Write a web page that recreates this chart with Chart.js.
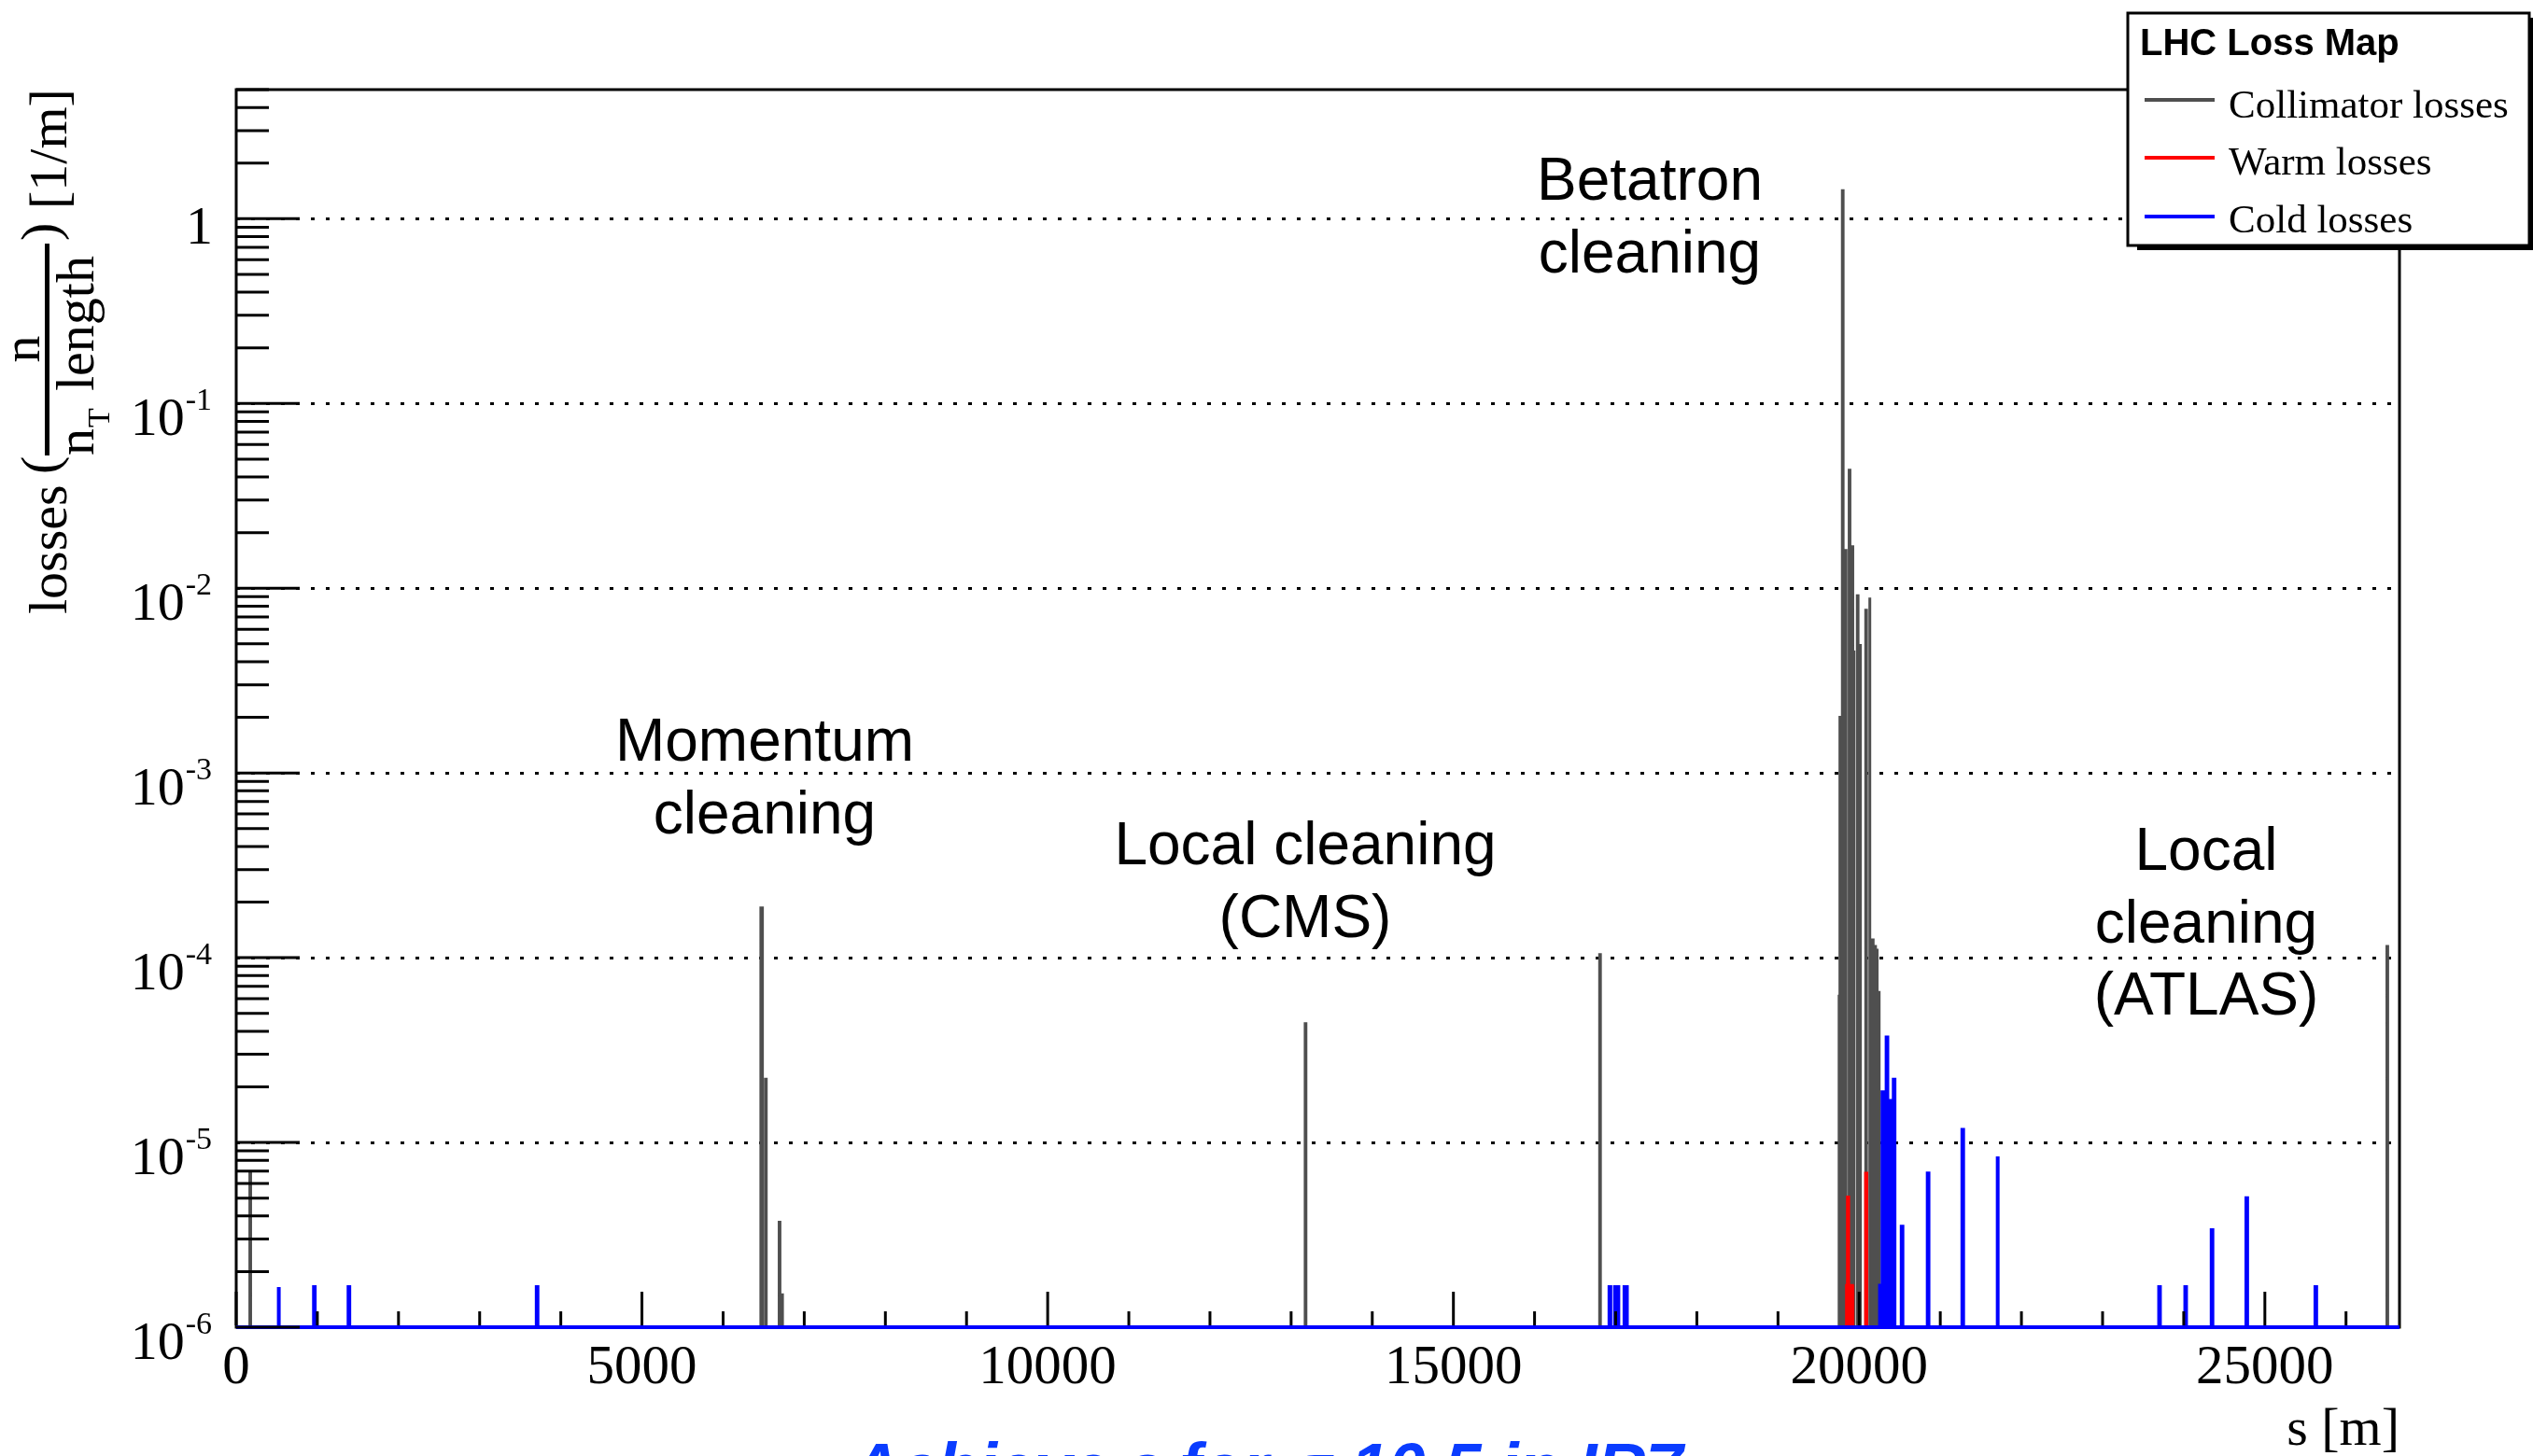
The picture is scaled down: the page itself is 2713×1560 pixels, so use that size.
<!DOCTYPE html>
<html>
<head>
<meta charset="utf-8">
<title>LHC Loss Map</title>
<script src="https://cdn.jsdelivr.net/npm/chart.js@4.4.1/dist/chart.umd.min.js"></script>
<style>
  html, body { margin: 0; padding: 0; background: #ffffff; }
  canvas { display: block; }
</style>
</head>
<body>
<canvas id="lossmap" width="2713" height="1560" style="width:2713px;height:1560px"></canvas>
<script>
// ---- data -------------------------------------------------------------
const RING_LENGTH = 26659;   // m
const LOSS_FLOOR = 1e-6;     // 1/m, lower edge of the plot
const LOSS_TOP = 5;          // 1/m, upper edge of the plot
const BIN_WIDTH = 10;        // m, histogram bin width

// collimator losses: bin centre s [m] and loss [1/m]
const collimatorS = [
  173,
  6470, 6480, 6527, 6696, 6727,
  13178, 16807,
  19758, 19768, 19798, 19834, 19882, 19917, 19934, 19982, 20011,
  20086, 20130, 20168, 20197, 20217, 20245,
  26509
];
const collimatorLoss = [
  6.9e-6,
  1.86e-4, 1.86e-4, 2.2e-5, 3.7e-6, 1.5e-6,
  4.4e-5, 1.04e-4,
  6.2e-5, 2.0e-3, 1.42, 0.016, 0.0436, 0.0168, 0.0046, 0.0091, 0.0049,
  0.0076, 0.0089, 1.25e-4, 1.15e-4, 1.1e-4, 6.6e-5,
  1.15e-4
];

// warm losses
const warmS = [19852, 19864, 19876, 19888, 19900, 19912, 19922, 20087];
const warmLoss = [1.68e-6, 5.05e-6, 1.68e-6, 1.68e-6, 1.68e-6, 1.68e-6, 1.68e-6, 6.8e-6];

// cold losses
const coldS = [
  523, 963, 1389, 3708,
  16920, 16930, 16988, 16998, 17008, 17018, 17028, 17113, 17123, 17133,
  20262, 20292, 20302, 20343, 20375, 20398, 20431, 20529,
  20850, 21277, 21706, 23702, 24024, 24349, 24777, 25628
];
const coldLoss = [
  1.65e-6, 1.65e-6, 1.65e-6, 1.65e-6,
  1.65e-6, 1.65e-6, 1.65e-6, 1.65e-6, 1.65e-6, 1.65e-6, 1.65e-6, 1.65e-6, 1.65e-6, 1.65e-6,
  1.68e-6, 1.87e-5, 1.87e-5, 3.7e-5, 1.51e-5, 1.68e-5, 2.19e-5, 3.5e-6,
  6.8e-6, 1.17e-5, 8.4e-6, 1.65e-6, 1.65e-6, 3.35e-6, 5.0e-6, 1.65e-6
];

const xMajorTicks = [0, 5000, 10000, 15000, 20000, 25000];
const xMinorStep = 1000;
const yDecades = [0, -1, -2, -3, -4, -5, -6];

// ---- histogram outline ------------------------------------------------
function histogramOutline(sArr, vArr) {
  const bins = sArr.map((s, i) => ({ s, v: vArr[i] })).sort((a, b) => a.s - b.s);
  const pts = [{ x: 0, y: LOSS_FLOOR }];
  for (const b of bins) {
    const lo = b.s - BIN_WIDTH / 2, hi = b.s + BIN_WIDTH / 2;
    pts.push({ x: lo, y: LOSS_FLOOR }, { x: lo, y: b.v }, { x: hi, y: b.v }, { x: hi, y: LOSS_FLOOR });
  }
  pts.push({ x: RING_LENGTH, y: LOSS_FLOOR });
  return pts;
}

function histDataset(label, color, sArr, vArr, order, width) {
  return {
    label,
    data: histogramOutline(sArr, vArr),
    borderColor: color,
    backgroundColor: color,
    borderWidth: width,
    borderJoinStyle: 'miter',
    borderCapStyle: 'butt',
    fill: 'start',
    pointRadius: 0,
    pointHoverRadius: 0,
    tension: 0,
    clip: 5,
    order
  };
}

// ---- ROOT-style frame, axes, labels and legend -------------------------
const SERIF = '"Liberation Serif", "Times New Roman", serif';
const SANS = '"Liberation Sans", Arial, sans-serif';

const rootStyle = {
  id: 'rootStyle',
  beforeDatasetsDraw(chart) {
    const { ctx, chartArea: a, scales: { y } } = chart;
    ctx.save();
    // dotted decade grid
    ctx.strokeStyle = '#000';
    ctx.lineWidth = 3;
    ctx.setLineDash([4, 12]);
    for (const d of yDecades) {
      if (d === -6) continue;
      const py = Math.round(y.getPixelForValue(Math.pow(10, d))) + 0.5;
      ctx.beginPath();
      ctx.moveTo(a.left, py);
      ctx.lineTo(a.right, py);
      ctx.stroke();
    }
    ctx.setLineDash([]);
    // frame
    ctx.lineWidth = 3;
    ctx.strokeRect(a.left, a.top, a.right - a.left, a.bottom - a.top);
    ctx.restore();
  },
  afterDatasetsDraw(chart) {
    const { ctx, chartArea: a, scales: { x, y } } = chart;
    ctx.save();
    ctx.strokeStyle = '#000';
    ctx.lineWidth = 3;
    // x ticks
    for (let s = 0; s <= RING_LENGTH; s += xMinorStep) {
      const px = x.getPixelForValue(s);
      const len = xMajorTicks.includes(s) ? 38 : 17;
      ctx.beginPath();
      ctx.moveTo(px, a.bottom - 2);
      ctx.lineTo(px, a.bottom - len);
      ctx.stroke();
    }
    // y ticks (log)
    for (const d of yDecades) {
      for (let m = 1; m <= 9; m++) {
        const v = m * Math.pow(10, d);
        if (v > LOSS_TOP || v < LOSS_FLOOR) continue;
        const py = y.getPixelForValue(v);
        const len = m === 1 ? 68 : 35;
        ctx.beginPath();
        ctx.moveTo(a.left, py);
        ctx.lineTo(a.left + len, py);
        ctx.stroke();
      }
    }
    ctx.restore();
  },
  afterDraw(chart) {
    const { ctx, chartArea: a, scales: { x, y } } = chart;
    ctx.save();
    ctx.fillStyle = '#000';
    ctx.textBaseline = 'alphabetic';

    // x tick labels
    ctx.font = '59px ' + SERIF;
    ctx.textAlign = 'center';
    for (const s of xMajorTicks) {
      ctx.fillText(String(s), x.getPixelForValue(s), a.bottom + 60);
    }
    // x title
    ctx.textAlign = 'right';
    ctx.font = '58px ' + SERIF;
    ctx.fillText('s [m]', a.right, 1548);

    // y tick labels: 1, 10^-1 ... 10^-6
    for (const d of yDecades) {
      const py = y.getPixelForValue(Math.pow(10, d));
      if (d === 0) {
        ctx.font = '58px ' + SERIF;
        ctx.textAlign = 'right';
        ctx.fillText('1', a.left - 25, py + 27);
      } else {
        const sup = '-' + (-d);
        ctx.font = '34px ' + SERIF;
        ctx.textAlign = 'left';
        const sw = ctx.measureText(sup).width;
        const supX = a.left - 26 - sw;
        ctx.fillText(sup, supX, py + 7);
        ctx.font = '58px ' + SERIF;
        ctx.textAlign = 'right';
        ctx.fillText('10', supX - 1, py + 34);
      }
    }

    // y title, rotated: losses ( n / n_T length ) [1/m]
    ctx.save();
    ctx.rotate(-Math.PI / 2);
    const put = (txt, yStart, xBase, font) => {
      ctx.font = font;
      ctx.textAlign = 'left';
      ctx.fillText(txt, -yStart, xBase);
    };
    const F58 = '58px ' + SERIF;
    put('losses', 658, 71, F58);
    put('(', 508, 62, F58);
    ctx.font = F58;
    ctx.textAlign = 'center';
    ctx.fillText('n', -374, 42);
    ctx.fillRect(-488, 48, 227, 5);
    put('n', 488, 100, F58);
    put('T', 458, 117, '34px ' + SERIF);
    put('length', 419, 100, F58);
    put(')', 258, 62, F58);
    put('[1/m]', 224, 71, F58);
    ctx.restore();

    // region annotations
    ctx.font = '64px ' + SANS;
    ctx.textAlign = 'center';
    const notes = [
      [['Betatron', 'cleaning'], 1767, 214],
      [['Momentum', 'cleaning'], 819, 815],
      [['Local cleaning', '(CMS)'], 1398, 926],
      [['Local', 'cleaning', '(ATLAS)'], 2363, 932]
    ];
    for (const [lines, cx, by] of notes) {
      lines.forEach((t, i) => ctx.fillText(t, cx, by + i * 77.5));
    }

    // caption below the frame
    ctx.fillStyle = '#0a3cff';
    ctx.font = 'italic bold 72px ' + SANS;
    ctx.textAlign = 'left';
    ctx.fillText('Achieve ε for σ 10.5 in IR7', 912, 1597);

    // legend box with shadow
    const L = { x: 2279, y: 14, w: 430, h: 249 };
    ctx.fillStyle = '#000';
    ctx.fillRect(L.x + 10, L.y + 5, L.w, L.h);
    ctx.fillStyle = '#fff';
    ctx.fillRect(L.x, L.y, L.w, L.h);
    ctx.strokeStyle = '#000';
    ctx.lineWidth = 3;
    ctx.strokeRect(L.x, L.y, L.w, L.h);
    ctx.fillStyle = '#000';
    ctx.font = 'bold 40px ' + SANS;
    ctx.textAlign = 'left';
    ctx.fillText('LHC Loss Map', 2292, 59);
    const lineY = [107, 169, 232];
    const textY = [126, 187, 249];
    ctx.font = '43px ' + SERIF;
    chart.data.datasets.forEach((ds, k) => {
      ctx.strokeStyle = ds.borderColor;
      ctx.lineWidth = 4;
      ctx.beginPath();
      ctx.moveTo(2297, lineY[k]);
      ctx.lineTo(2372, lineY[k]);
      ctx.stroke();
      ctx.fillStyle = '#000';
      ctx.fillText(ds.label, 2387, textY[k]);
    });
    ctx.restore();
  }
};

// ---- chart ------------------------------------------------------------
new Chart(document.getElementById('lossmap'), {
  type: 'line',
  data: {
    datasets: [
      histDataset('Collimator losses', '#4f4f4f', collimatorS, collimatorLoss, 2, 3),
      histDataset('Warm losses', '#ff0000', warmS, warmLoss, 1, 3.5),
      histDataset('Cold losses', '#0000ff', coldS, coldLoss, 0, 4)
    ]
  },
  options: {
    responsive: false,
    devicePixelRatio: 1,
    animation: false,
    events: [],
    layout: { autoPadding: false, padding: { left: 253, right: 143, top: 96, bottom: 138 } },
    scales: {
      x: { type: 'linear', min: 0, max: RING_LENGTH, bounds: 'data', display: false },
      y: { type: 'logarithmic', min: LOSS_FLOOR, max: LOSS_TOP, bounds: 'data', display: false }
    },
    plugins: {
      legend: { display: false },
      tooltip: { enabled: false },
      filler: { propagate: false }
    }
  },
  plugins: [rootStyle]
});
</script>
</body>
</html>
